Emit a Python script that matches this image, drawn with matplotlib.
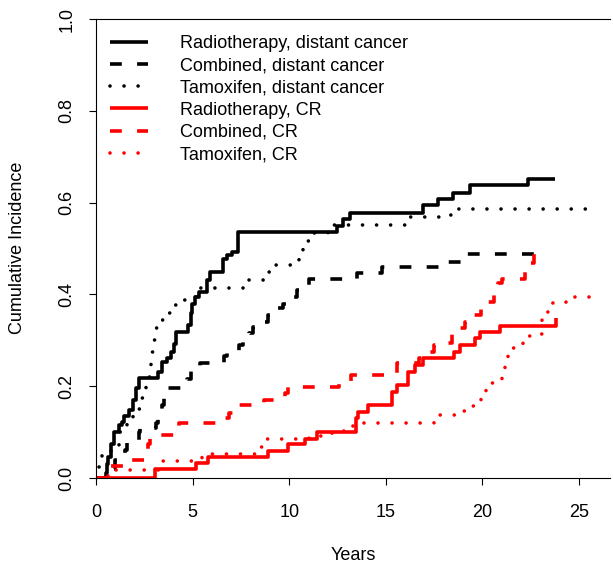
import matplotlib
matplotlib.use("Agg")
import matplotlib.pyplot as plt

plt.rcParams['font.family'] = ['Liberation Sans', 'DejaVu Sans']
plt.rcParams['lines.scale_dashes'] = False

# Cumulative incidence step curves: event times (years) and levels after each time
rt_dist_t = [0, 0.5, 0.55, 0.6, 0.8, 0.95, 1.2, 1.35, 1.45, 1.7, 1.9, 2.05, 2.2, 3.2, 3.4,
             3.7, 3.9, 4.05, 4.15, 4.75, 4.9, 4.95, 5.1, 5.35, 5.75, 5.9, 6.55, 6.8, 7.05,
             7.35, 12.45, 12.8, 13.15, 16.9, 17.7, 18.45, 19.35, 22.35, 23.75]
rt_dist_v = [0, 0.01, 0.03, 0.046, 0.075, 0.10, 0.115, 0.123, 0.134, 0.148, 0.17, 0.195,
             0.217, 0.232, 0.253, 0.261, 0.275, 0.293, 0.319, 0.333, 0.359, 0.38, 0.395,
             0.406, 0.431, 0.449, 0.478, 0.485, 0.493, 0.536, 0.549, 0.564, 0.578, 0.595,
             0.607, 0.622, 0.638, 0.651, 0.651]

comb_dist_t = [0, 0.6, 0.8, 1.0, 1.5, 1.6, 2.2, 2.3, 3.1, 3.2, 3.4, 3.5, 3.6, 4.7, 4.9,
               5.4, 6.6, 6.8, 7.4, 7.6, 7.9, 8.1, 8.3, 8.9, 9.0, 9.7, 9.9, 10.4, 10.6, 11.0,
               13.5, 14.8, 17.8, 18.1, 18.9, 19.2, 23.3]
comb_dist_v = [0, 0.01, 0.02, 0.04, 0.06, 0.08, 0.10, 0.11, 0.12, 0.13, 0.16, 0.18, 0.196,
               0.215, 0.235, 0.25, 0.265, 0.275, 0.29, 0.30, 0.315, 0.33, 0.34, 0.355, 0.37,
               0.38, 0.395, 0.41, 0.42, 0.433, 0.446, 0.459, 0.465, 0.47, 0.48, 0.487, 0.487]

tam_dist_t = [0, 0.1, 0.3, 0.8, 1.2, 1.6, 1.9, 2.3, 2.45, 2.6, 2.8, 2.85, 2.95, 3.05, 3.3,
              3.6, 4.0, 4.4, 4.9, 5.2, 7.7, 8.7, 9.1, 10.3, 10.5, 10.7, 11.0, 12.0, 16.0,
              18.0, 18.5, 25.8]
tam_dist_v = [0, 0.025, 0.05, 0.07, 0.10, 0.13, 0.15, 0.175, 0.195, 0.22, 0.246, 0.275,
              0.30, 0.326, 0.344, 0.36, 0.377, 0.388, 0.395, 0.413, 0.431, 0.449, 0.464,
              0.473, 0.495, 0.516, 0.533, 0.551, 0.568, 0.574, 0.585, 0.585]

rt_cr_t = [0, 3.05, 5.18, 5.81, 8.92, 9.95, 10.8, 11.42, 13.45, 13.55, 14.1, 15.3, 15.56,
           16.17, 16.5, 16.94, 18.53, 18.84, 19.62, 19.88, 20.9, 23.8]
rt_cr_v = [0, 0.019, 0.032, 0.045, 0.059, 0.074, 0.086, 0.101, 0.13, 0.144, 0.159, 0.188,
           0.203, 0.232, 0.246, 0.261, 0.275, 0.29, 0.304, 0.319, 0.331, 0.348]

comb_cr_t = [0, 0.6, 1.7, 2.6, 2.7, 2.8, 4.3, 6.7, 6.9, 7.3, 8.7, 9.8, 9.95, 12.6, 12.8,
             13.2, 15.6, 16.7, 16.9, 17.5, 17.9, 18.4, 18.6, 19.1, 19.4, 19.9, 20.1, 20.6,
             20.8, 21.0, 22.2, 22.45, 22.65, 23.2]
comb_cr_v = [0, 0.026, 0.04, 0.06, 0.075, 0.094, 0.119, 0.13, 0.142, 0.159, 0.171, 0.185,
             0.199, 0.205, 0.212, 0.224, 0.25, 0.262, 0.275, 0.29, 0.294, 0.316, 0.327,
             0.34, 0.355, 0.373, 0.384, 0.41, 0.425, 0.433, 0.457, 0.468, 0.5, 0.5]

tam_cr_t = [0, 0.6, 3.3, 5.5, 8.3, 8.7, 11.0, 12.2, 13.0, 13.5, 17.5, 18.7, 19.2, 19.6,
            19.9, 20.2, 20.6, 21.0, 21.15, 21.3, 21.7, 22.1, 22.5, 23.1, 23.4, 24.3, 26.0]
tam_cr_v = [0, 0.017, 0.036, 0.052, 0.068, 0.084, 0.092, 0.103, 0.113, 0.12, 0.137, 0.147,
            0.157, 0.171, 0.186, 0.206, 0.215, 0.237, 0.261, 0.283, 0.292, 0.309, 0.314,
            0.362, 0.381, 0.395, 0.395]

labels = ["Radiotherapy, distant cancer", "Combined, distant cancer",
          "Tamoxifen, distant cancer", "Radiotherapy, CR", "Combined, CR", "Tamoxifen, CR"]
x_ticks = [0, 5, 10, 15, 20, 25]
y_ticks = [0.0, 0.2, 0.4, 0.6, 0.8, 1.0]

W, H = 613, 568
fig = plt.figure(figsize=(W / 100, H / 100), dpi=100)
ax = fig.add_axes([96 / W, 90 / H, (610 - 96) / W, 459 / H])

lw = 2.6
solid = '-'
dashed = (0, (8.5, 11.0))
dotted = (0, (0.01, 10.1))

curves = [
    (rt_dist_t, rt_dist_v, 'black', solid),
    (comb_dist_t, comb_dist_v, 'black', dashed),
    (tam_dist_t, tam_dist_v, 'black', dotted),
    (rt_cr_t, rt_cr_v, 'red', solid),
    (comb_cr_t, comb_cr_v, 'red', dashed),
    (tam_cr_t, tam_cr_v, 'red', dotted),
]
for (t, v, c, ls), lab in zip(curves, labels):
    cap = 'round' if ls is dotted else 'butt'
    ax.step(t, v, where='post', color=c, linestyle=ls, linewidth=lw,
            dash_capstyle=cap, solid_capstyle='butt', label=lab)

ax.set_xlim(0, 26.6)
ax.set_ylim(0, 1)
ax.set_xticks(x_ticks)
ax.set_xticklabels([str(v) for v in x_ticks])
ax.set_yticks(y_ticks)
ax.set_yticklabels([f"{v:.1f}" for v in y_ticks], rotation=90, va='center')

for side in ['left', 'bottom', 'top']:
    ax.spines[side].set_linewidth(0.8)
ax.spines['right'].set_visible(False)
ax.tick_params(direction='out', length=5, width=0.8, labelsize=13, colors='black')
ax.tick_params(axis='x', pad=13.5)
ax.tick_params(axis='y', pad=10)

fig.text(353 / W, 1 - 556 / H, "Years", ha='center', va='center', fontsize=13)
fig.text(18 / W, 1 - 248 / H, "Cumulative Incidence", ha='center', va='center',
         rotation=90, fontsize=13)

ax.legend(loc='upper left', bbox_to_anchor=(110 / W, 1 - 35 / H),
          bbox_transform=fig.transFigure, frameon=False, fontsize=13,
          handlelength=2.1, handletextpad=1.75, labelspacing=0.29,
          borderpad=0, borderaxespad=0)

fig.savefig("out.png", dpi=100)
